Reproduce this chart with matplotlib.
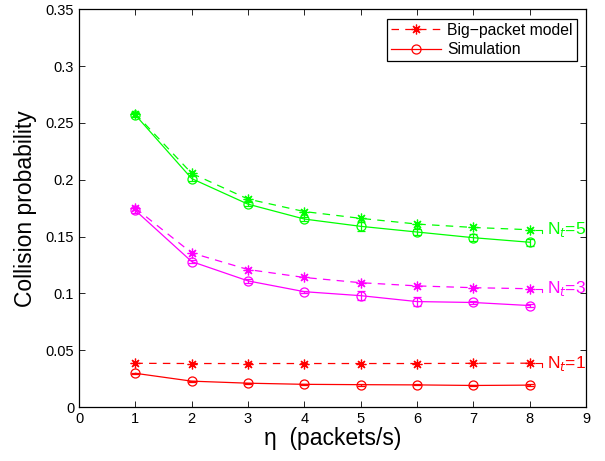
import numpy as np
import matplotlib
matplotlib.use("Agg")
from matplotlib import pyplot as plt
from matplotlib.lines import Line2D

plt.rcParams["font.family"] = ["Liberation Sans", "DejaVu Sans"]

eta = [1, 2, 3, 4, 5, 6, 7, 8]

model_n5 = [0.258, 0.2056, 0.183, 0.172, 0.166, 0.161, 0.158, 0.156]
sim_n5 = [0.257, 0.201, 0.1785, 0.1654, 0.159, 0.154, 0.149, 0.145]
err_n5 = [0.002, 0.002, 0.002, 0.002, 0.004, 0.003, 0.003, 0.003]

model_n3 = [0.175, 0.1356, 0.121, 0.114, 0.1094, 0.1066, 0.105, 0.1041]
sim_n3 = [0.173, 0.128, 0.111, 0.1015, 0.098, 0.0928, 0.092, 0.0893]
err_n3 = [0.002, 0.001, 0.002, 0.001, 0.004, 0.004, 0.001, 0.001]

model_n1 = [0.0385, 0.0383, 0.0383, 0.0383, 0.0383, 0.0383, 0.0385, 0.0386]
sim_n1 = [0.0297, 0.0228, 0.021, 0.0200, 0.0197, 0.0195, 0.019, 0.0193]
err_n1 = [0.0005, 0.0005, 0.0005, 0.0005, 0.001, 0.0005, 0.0005, 0.0012]

groups = [
    (model_n5, sim_n5, err_n5, "#00ff00", "N$_t$=5"),
    (model_n3, sim_n3, err_n3, "#ff00ff", "N$_t$=3"),
    (model_n1, sim_n1, err_n1, "#ff0000", "N$_t$=1"),
]

star = (8, 2, 0)

fig = plt.figure(figsize=(6.05, 4.61), dpi=100)
ax = fig.add_axes([0.1306, 0.117, 0.838, 0.863])

for model, sim, err, c, lab in groups:
    ax.plot(eta, model, color=c, marker=star, ms=7, mew=0.9, lw=0.9,
            dashes=(6, 5))
    ax.errorbar(eta, sim, yerr=err, color=c, marker="o", ms=6.5, mfc="none",
                mew=0.9, lw=0.9, capsize=3, elinewidth=0.9)
    # small leader mark next to the label
    ax.plot([eta[-1] + 0.12, eta[-1] + 0.22, eta[-1] + 0.22],
            [model[-1], model[-1], model[-1] - 0.003], color=c, lw=0.8)
    ax.text(eta[-1] + 0.3, model[-1], lab, color=c, fontsize=12.5,
            va="center", ha="left")

ax.set_xlim(0, 9)
ax.set_ylim(0, 0.35)
ax.set_xticks(range(0, 10))
ax.set_yticks(np.arange(0, 0.351, 0.05))
ax.set_yticklabels(["0", "0.05", "0.1", "0.15", "0.2", "0.25", "0.3", "0.35"])
ax.tick_params(direction="in", top=True, right=True, labelsize=10.5, length=4,
               width=0.6)
for s in ax.spines.values():
    s.set_linewidth(0.9)
ax.set_xlabel("\u03b7  (packets/s)", fontsize=16.5, labelpad=1)
ax.set_ylabel("Collision probability", fontsize=16.5, labelpad=6)

handles = [
    Line2D([], [], color="#ff0000", marker=star, ms=7, mew=0.9, lw=0.9,
           dashes=(6, 5)),
    Line2D([], [], color="#ff0000", marker="o", ms=6.5, mfc="none", mew=0.9,
           lw=0.9),
]
leg = ax.legend(handles, ["Big\u2212packet model", "Simulation"],
                loc="upper right", fontsize=11.3, fancybox=False,
                edgecolor="black", framealpha=1, borderpad=0.25,
                handlelength=3.2, handletextpad=0.4, borderaxespad=0.6,
                labelspacing=0.3)
leg.get_frame().set_linewidth(0.9)

fig.savefig("out.png", dpi=100)
